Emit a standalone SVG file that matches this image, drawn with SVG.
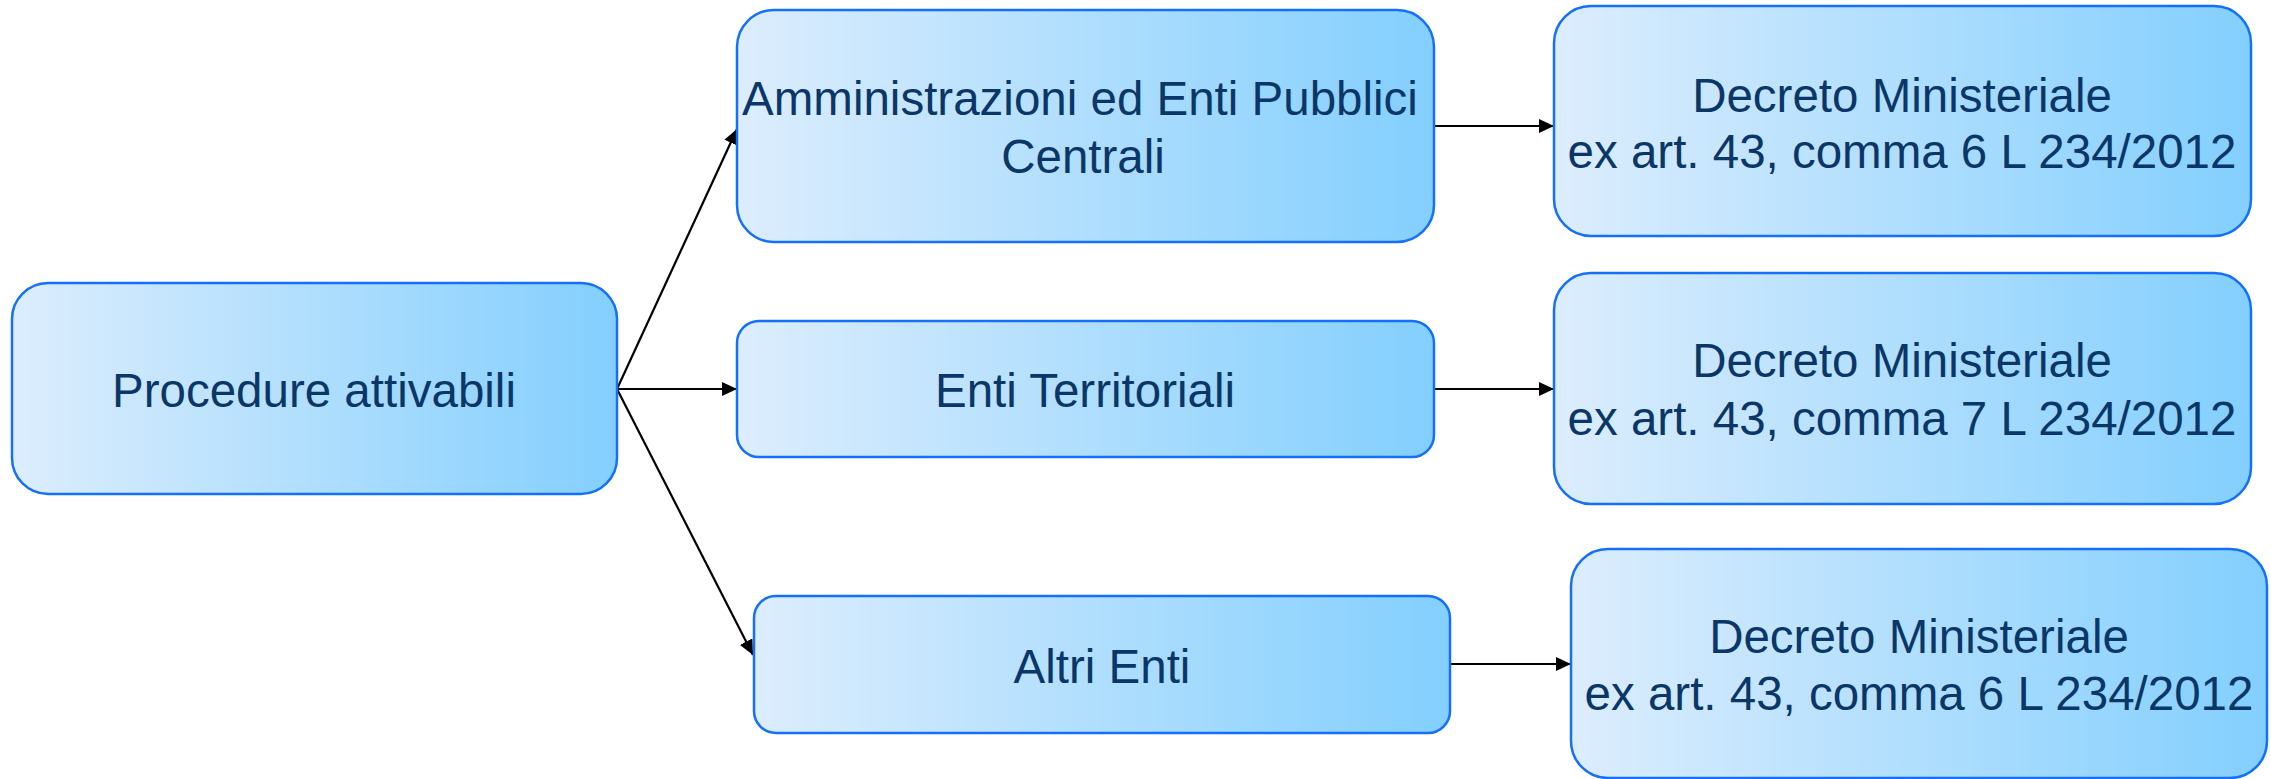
<svg xmlns="http://www.w3.org/2000/svg" width="2271" height="779" viewBox="0 0 2271 779">
<style>
.box{fill:url(#g);stroke:#1470fb;stroke-width:2.5}
.t{font-family:"Liberation Sans",Arial,sans-serif;font-size:47.5px;fill:#0b3768;text-anchor:middle}
.c{stroke:#000;stroke-width:2.2;fill:none;marker-end:url(#a)}
</style>
<defs>
<linearGradient id="g" x1="0" y1="0" x2="1" y2="0">
<stop offset="0" stop-color="#dcedfd"/>
<stop offset="1" stop-color="#83cffe"/>
</linearGradient>
<marker id="a" markerUnits="userSpaceOnUse" markerWidth="16" markerHeight="14" refX="15" refY="7" orient="auto">
<path d="M0,0 L15,7 L0,14 z" fill="#000"/>
</marker>
</defs>
<g id="connectors">
<line class="c" x1="617" y1="389" x2="737" y2="129"/>
<line class="c" x1="617" y1="389" x2="737" y2="389"/>
<line class="c" x1="617" y1="389" x2="753" y2="655"/>
<line class="c" x1="1434" y1="126" x2="1554" y2="126"/>
<line class="c" x1="1434" y1="389" x2="1554" y2="389"/>
<line class="c" x1="1450" y1="664" x2="1571" y2="664"/>
</g>
<g id="procedure">
<rect class="box" x="12" y="283" width="605" height="211" rx="36"/>
<text class="t" x="314" y="407">Procedure attivabili</text>
</g>
<g id="amministrazioni">
<rect class="box" x="737" y="10" width="697" height="232" rx="37"/>
<text class="t" x="1080" y="115">Amministrazioni ed Enti Pubblici</text>
<text class="t" x="1083" y="173">Centrali</text>
</g>
<g id="enti-territoriali">
<rect class="box" x="737" y="321" width="697" height="136" rx="22"/>
<text class="t" x="1085" y="407">Enti Territoriali</text>
</g>
<g id="altri-enti">
<rect class="box" x="754" y="596" width="696" height="137" rx="22"/>
<text class="t" x="1102" y="683">Altri Enti</text>
</g>
<g id="decreto-1">
<rect class="box" x="1554" y="6" width="697" height="230" rx="37"/>
<text class="t" x="1902" y="112">Decreto Ministeriale</text>
<text class="t" x="1902" y="168">ex art. 43, comma 6 L 234/2012</text>
</g>
<g id="decreto-2">
<rect class="box" x="1554" y="273" width="697" height="231" rx="37"/>
<text class="t" x="1902" y="377">Decreto Ministeriale</text>
<text class="t" x="1902" y="435">ex art. 43, comma 7 L 234/2012</text>
</g>
<g id="decreto-3">
<rect class="box" x="1571" y="549" width="696" height="229" rx="37"/>
<text class="t" x="1919" y="653">Decreto Ministeriale</text>
<text class="t" x="1919" y="710">ex art. 43, comma 6 L 234/2012</text>
</g>
</svg>
